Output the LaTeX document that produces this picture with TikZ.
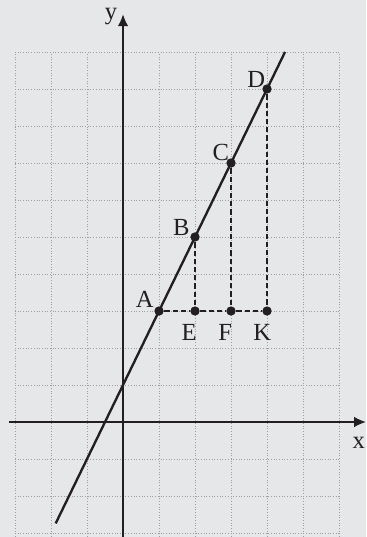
\documentclass[tikz,border=0pt]{standalone}
\usepackage{fontspec}
\setmainfont{Liberation Serif}
\usetikzlibrary{arrows.meta, positioning}
\definecolor{cbg}{HTML}{E6E7E8}
\definecolor{cgrid}{HTML}{9D9FA2}
\definecolor{cink}{HTML}{231F20}
\tikzset{
  every picture/.style={font=\fontsize{21}{21}\selectfont, line width=1.2pt},
  axis/.style={-{Latex[length=3.6mm, width=3.2mm]}, draw=cink, line width=1.4pt},
  gridline/.style={draw=cgrid, line width=0.6pt, dash pattern=on 0.7pt off 1.6pt},
  dot/.style={circle, fill=cink, inner sep=0pt, minimum size=2.8mm},
  drop/.style={draw=cink, line width=1.4pt, dash pattern=on 4.5pt off 2.5pt},
  graph/.style={draw=cink, line width=2pt},
  lbl/.style={text=cink, inner sep=0pt},
}
\begin{document}
\begin{tikzpicture}[x=1.08cm, y=1.11cm]
  \useasboundingbox[fill=cbg] (-3.417,-3.108) rectangle (6.75,11.405);
  \draw[gridline, step=1] (-3,-3.108) grid (6,10);
  \draw[axis] (-3.17,0) -- (6.75,0);
  \draw[axis] (0,-3.108) -- (0,11.02);
  \node[lbl, anchor=north east] (xlab) at (6.74,-0.38) {x};
  \node[lbl, anchor=base east] (ylab) at (-0.14,10.88) {y};
  % the line y = 2x + 1
  \coordinate (lo) at (-1.87,-2.74);
  \coordinate (hi) at (4.5,10);
  \draw[graph] (lo) -- (hi);
  % points
  \node[dot] (A) at (1,3) {};
  \node[dot] (B) at (2,5) {};
  \node[dot] (C) at (3,7) {};
  \node[dot] (D) at (4,9) {};
  \node[dot] (E) at (2,3) {};
  \node[dot] (F) at (3,3) {};
  \node[dot] (K) at (4,3) {};
  \draw[drop] (A) -- (E);
  \draw[drop] (E) -- (F);
  \draw[drop] (F) -- (K);
  \draw[drop] (B) -- (E);
  \draw[drop] (C) -- (F);
  \draw[drop] (D) -- (K);
  % labels
  \node[lbl, anchor=south east] (labA) at ([xshift=-4pt, yshift=2.5pt]A.center) {A};
  \node[lbl, anchor=south east] (labB) at ([xshift=-4pt, yshift=1pt]B.center) {B};
  \node[lbl, anchor=south east] (labC) at ([xshift=-1pt, yshift=1.5pt]C.center) {C};
  \node[lbl, anchor=south east] (labD) at ([xshift=-1pt, yshift=1pt]D.center) {D};
  \node[lbl, anchor=north] (labE) at ([xshift=-5pt, yshift=-11pt]E.center) {E};
  \node[lbl, anchor=north] (labF) at ([xshift=-5pt, yshift=-11pt]F.center) {F};
  \node[lbl, anchor=north] (labK) at ([xshift=-4pt, yshift=-11pt]K.center) {K};
\end{tikzpicture}
\end{document}
